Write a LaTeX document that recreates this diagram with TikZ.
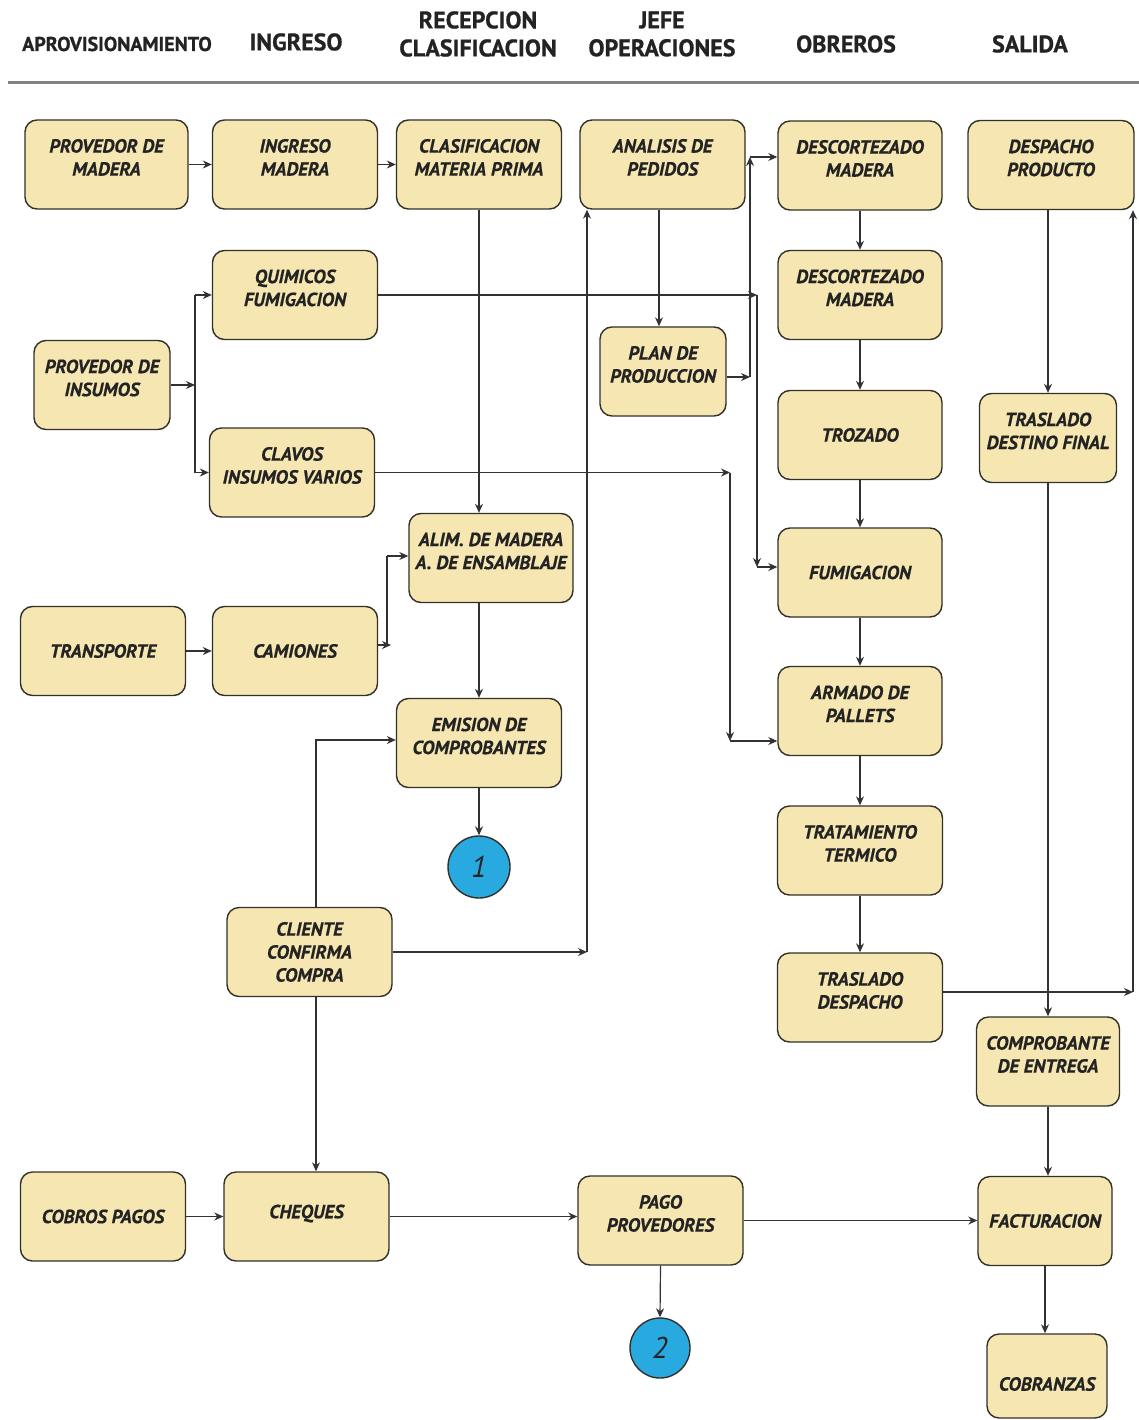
\documentclass[tikz,border=0pt]{standalone}
\usepackage{fontspec}
\setmainfont{PT Sans}
\newfontfamily\bfont[BoldItalicFeatures={FakeBold=0.6}]{PT Sans}
\newfontfamily\hfont[BoldFeatures={FakeBold=0.8}]{PT Sans}
\usetikzlibrary{arrows.meta}
\definecolor{boxfill}{RGB}{246,231,178}
\definecolor{boxline}{RGB}{50,48,40}
\definecolor{lncol}{RGB}{50,50,50}
\definecolor{circfill}{RGB}{40,170,225}
\definecolor{txtcol}{RGB}{35,35,35}
\definecolor{hdline}{RGB}{130,130,130}
\newcommand\up[1]{\raisebox{5pt}[\height][\depth]{\begin{tabular}{@{}c@{}}#1\end{tabular}}}
\begin{document}
\begin{tikzpicture}[x=1pt,y=-1pt,
  box/.style={draw=boxline, fill=boxfill, line width=1.4pt, rounded corners=12pt,
    minimum width=165pt, minimum height=89pt, align=center, inner sep=2pt, text=txtcol,
    font=\bfont\bfseries\itshape\fontsize{19}{23}\selectfont},
  circ/.style={circle, draw=boxline, fill=circfill, line width=1.4pt, minimum size=62pt,
    inner sep=0pt, text=txtcol, font=\bfont\itshape\fontsize{30}{32}\selectfont},
  hd/.style={align=center, text=txtcol, font=\hfont\bfseries\fontsize{24}{28}\selectfont},
  arr/.style={draw=lncol, line width=1.2pt, -{Stealth[length=9pt,width=8pt]}},
  ln/.style={draw=lncol, line width=1.2pt}]
\useasboundingbox[fill=white] (0,0) rectangle (1139,1420);

% headers
\node[hd, font=\hfont\bfseries\fontsize{20}{24}\selectfont] (h1) at (117,44) {APROVISIONAMIENTO};
\node[hd] (h2) at (296,42) {INGRESO};
\node[hd] (h3) at (478,34) {RECEPCION\\CLASIFICACION};
\node[hd] (h4) at (662,34) {JEFE\\OPERACIONES};
\node[hd] (h5) at (846,44) {OBREROS};
\node[hd] (h6) at (1030,44) {SALIDA};
\coordinate (hl1) at (8,83);
\coordinate (hl2) at (1139,83);
\draw[draw=hdline, line width=3pt] (hl1) -- (hl2);

% boxes
\node[box, minimum width=163pt] (pm) at (106.5,164.5) {\up{PROVEDOR DE\\MADERA}};
\node[box] (im) at (295,164.5) {\up{INGRESO\\MADERA}};
\node[box] (cmp) at (479,164.5) {\up{CLASIFICACION\\MATERIA PRIMA}};
\node[box] (ap) at (662.5,164.5) {\up{ANALISIS DE\\PEDIDOS}};
\node[box, minimum width=164pt] (dm1) at (860,165.5) {\up{DESCORTEZADO\\MADERA}};
\node[box, minimum width=166pt] (dp) at (1051,165) {\up{DESPACHO\\PRODUCTO}};

\node[box] (qf) at (295,295) {\up{QUIMICOS\\FUMIGACION}};
\node[box, minimum width=136pt] (pi) at (102,385) {\up{PROVEDOR DE\\INSUMOS}};
\node[box] (cl) at (292,472.5) {\up{CLAVOS\\INSUMOS VARIOS}};
\node[box, minimum width=164pt] (dm2) at (860,295) {\up{DESCORTEZADO\\MADERA}};
\node[box, minimum width=126pt] (pp) at (663,371.5) {\up{PLAN DE\\PRODUCCION}};
\node[box, minimum width=164pt] (tz) at (860,435) {TROZADO};
\node[box, minimum width=137pt] (tdf) at (1048,438) {\up{TRASLADO\\DESTINO FINAL}};
\node[box, minimum width=164pt] (al) at (491,558) {\up{ALIM. DE MADERA\\A. DE ENSAMBLAJE}};
\node[box, minimum width=164pt] (fu) at (860,572.5) {FUMIGACION};
\node[box] (tr) at (103,651) {TRANSPORTE};
\node[box] (ca) at (295,651) {CAMIONES};
\node[box] (em) at (479,743) {\up{EMISION DE\\COMPROBANTES}};
\node[box, minimum width=164pt] (ar) at (860,711) {\up{ARMADO DE\\PALLETS}};
\node[circ] (c1) at (479,867) {1};
\node[box] (tt) at (860,850.5) {\up{TRATAMIENTO\\TERMICO}};
\node[box] (cc) at (309.5,952) {CLIENTE\\CONFIRMA\\COMPRA};
\node[box] (td) at (860,997.5) {\up{TRASLADO\\DESPACHO}};
\node[box, minimum width=143pt] (ce) at (1048,1061.5) {\up{COMPROBANTE\\DE ENTREGA}};
\node[box] (cp) at (103,1216.5) {COBROS PAGOS};
\node[box] (ch) at (306.5,1216.5) {\raisebox{3pt}[\height][\depth]{CHEQUES}};
\node[box] (pg) at (660.5,1220.5) {\up{PAGO\\PROVEDORES}};
\node[box, minimum width=134pt] (fa) at (1045,1221) {FACTURACION};
\node[circ, minimum size=60pt] (c2) at (660,1348) {2};
\node[box, minimum width=120pt, minimum height=84pt] (co) at (1047,1376) {\raisebox{-8pt}[\height][\depth]{COBRANZAS}};

% connectors - row 1
\draw[arr] (pm) -- (im);
\draw[arr] (im) -- (cmp);
\draw[arr] (cmp.south) -- (cmp.south |- al.north);

% insumos
\coordinate (j1) at (195,385);
\draw[arr] (pi.east) -- (j1);
\draw[ln] (j1 |- qf) -- (j1 |- cl);
\draw[arr] (j1 |- qf) -- (qf.west);
\draw[arr] (j1 |- cl) -- (cl.west);

% quimicos -> fumigacion
\coordinate (q1) at (757,295);
\coordinate (q2) at (757,567);
\draw[arr] (qf.east) -- (q1);
\draw[arr] (q1) -- (q2);
\draw[arr] (q2) -- (q2 -| fu.west);

% clavos -> armado
\coordinate (k1) at (730,472.5);
\coordinate (k2) at (730,741);
\draw[arr] (cl.east) -- (k1);
\draw[arr] (k1) -- (k2);
\draw[arr] (k2) -- (k2 -| ar.west);

% analisis -> plan -> descortezado
\coordinate (a1) at (659,209);
\draw[arr] (ap.south -| a1) -- (pp.north -| a1);
\coordinate (p1) at (750,377);
\coordinate (p2) at (750,157);
\draw[arr] (pp.east |- p1) -- (p1);
\draw[arr] (p1) -- (p2);
\draw[arr] (p2) -- (p2 -| dm1.west);

% obreros chain
\draw[arr] (dm1) -- (dm2);
\draw[arr] (dm2) -- (tz);
\draw[arr] (tz) -- (fu);
\draw[arr] (fu) -- (ar);
\draw[arr] (ar) -- (tt);
\draw[arr] (tt) -- (td);

% traslado despacho -> despacho producto
\coordinate (t1) at (1133,992);
\draw[arr] (td.east |- t1) -- (t1);
\draw[arr] (t1) -- (t1 |- dp.south);

% salida chain
\draw[arr] (tdf.north |- dp.south) -- (tdf.north);
\draw[arr] (tdf.south) -- (ce.north);
\draw[arr] (ce.south) -- (ce.south |- fa.north);
\draw[arr] (fa.south) -- (fa.south |- co.north);

% camiones -> alim
\coordinate (m1) at (391,645);
\coordinate (m0) at (387,645);
\coordinate (m2) at (387,556);
\draw[arr] (ca.east |- m1) -- (m1);
\draw[ln] (m0) -- (m2);
\draw[arr] (m2) -- (m2 -| al.west);
\draw[arr] (tr) -- (ca);

% alim -> emision -> 1
\draw[arr] (al.south -| em.north) -- (em.north);
\draw[arr] (em.south) -- (c1.north);

% cliente
\coordinate (cc1) at (587,952);
\draw[arr] (cc.east) -- (cc1);
\draw[arr] (cc1) -- (cc1 |- ap.south);
\coordinate (cc2) at (316,740);
\draw[arr] (cc.north -| cc2) -- (cc2) -- (cc2 -| em.west);
\draw[arr] (cc.south -| cc2) -- (cc2 |- ch.north);

% bottom row
\draw[arr] (cp) -- (ch);
\draw[arr] (ch.east) -- (ch.east -| pg.west);
\draw[arr] (pg.east) -- (pg.east -| fa.west);
\draw[arr] (pg.south) -- (c2.north);
\end{tikzpicture}
\end{document}
